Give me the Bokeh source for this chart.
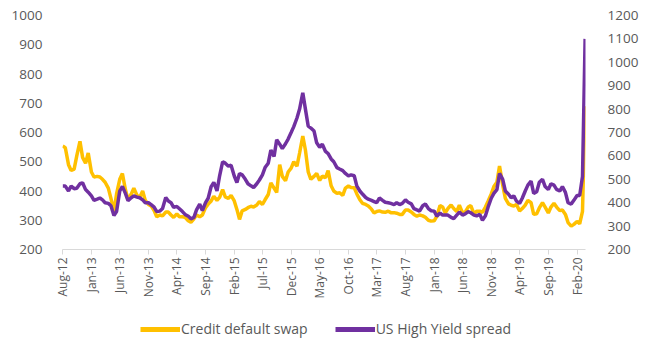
import pandas as pd
from bokeh.plotting import figure
from bokeh.layouts import column
from bokeh.models import (Range1d, LinearAxis, FixedTicker, DatetimeTickFormatter,
                          Legend, LegendItem, ColumnDataSource)
from bokeh.embed import file_html
from bokeh.resources import INLINE

# Credit default swap (left axis), semi-monthly from Aug 2012
cds_spread = [
    554, 548, 490, 470, 475, 520, 570, 515, 495, 530,
    465, 448, 450, 448, 440, 430, 410, 375, 330, 390,
    440, 460, 405, 370, 389, 410, 385, 378, 400, 368,
    354, 349, 333, 312, 318, 315, 328, 328, 318, 310,
    322, 312, 312, 310, 298, 293, 305, 318, 312, 318,
    343, 355, 366, 382, 368, 378, 405, 380, 375, 385,
    366, 337, 303, 332, 337, 343, 348, 345, 352, 364,
    354, 370, 388, 428, 410, 395, 490, 450, 435, 465,
    478, 500, 485, 530, 588, 540, 465, 440, 450, 460,
    436, 451, 446, 470, 418, 400, 392, 394, 385, 410,
    417, 412, 411, 390, 370, 358, 354, 349, 338, 325,
    330, 332, 328, 327, 331, 326, 326, 324, 320, 320,
    335, 335, 328, 320, 314, 318, 315, 310, 300, 297,
    298, 314, 350, 345, 325, 340, 352, 340, 330, 352,
    325, 328, 345, 350, 322, 331, 331, 327, 345, 365,
    390, 415, 430, 485, 420, 375, 356, 351, 349, 354,
    332, 340, 352, 368, 360, 320, 322, 342, 360, 345,
    325, 345, 358, 345, 333, 335, 320, 292, 280, 286,
    296, 288, 330, 690,
]

# US High Yield spread (right axis), semi-monthly from Aug 2012
hy_spread = [
    471, 471, 450, 471, 460, 462, 481, 485, 456, 445,
    429, 410, 415, 420, 412, 400, 397, 387, 345, 362,
    450, 470, 440, 409, 421, 429, 424, 421, 412, 400,
    400, 392, 381, 362, 364, 375, 422, 407, 400, 380,
    384, 374, 362, 350, 342, 331, 337, 369, 394, 366,
    400, 419, 469, 487, 450, 515, 575, 569, 556, 560,
    514, 486, 525, 519, 500, 481, 472, 465, 481, 497,
    519, 550, 569, 625, 597, 669, 650, 631, 652, 672,
    700, 725, 762, 800, 870, 800, 727, 719, 706, 656,
    637, 650, 619, 610, 587, 575, 550, 544, 537, 525,
    515, 519, 515, 471, 450, 437, 422, 415, 410, 405,
    400, 420, 410, 402, 400, 397, 392, 400, 392, 397,
    412, 402, 395, 375, 369, 364, 387, 394, 375, 366,
    364, 342, 356, 347, 347, 347, 337, 332, 347, 360,
    347, 352, 362, 357, 347, 344, 350, 325, 344, 381,
    419, 440, 456, 525, 500, 450, 436, 421, 429, 407,
    397, 419, 450, 475, 492, 440, 447, 487, 500, 469,
    456, 481, 475, 457, 450, 469, 444, 400, 394, 410,
    431, 431, 512, 1100,
]

tick_labels = ["Aug-12", "Jan-13", "Jun-13", "Nov-13", "Apr-14", "Sep-14", "Feb-15",
               "Jul-15", "Dec-15", "May-16", "Oct-16", "Mar-17", "Aug-17", "Jan-18",
               "Jun-18", "Nov-18", "Apr-19", "Sep-19", "Feb-20"]
left_ticks = [200, 300, 400, 500, 600, 700, 800, 900, 1000]
right_ticks = [200, 300, 400, 500, 600, 700, 800, 900, 1000, 1100, 1200]
series_names = ["Credit default swap", "US High Yield spread"]
series_colors = ["#FFC000", "#7030A0"]

dates = pd.date_range("2012-08-01", periods=len(cds_spread), freq="SMS")
tick_dates = pd.date_range("2012-08-01", periods=len(tick_labels), freq="5MS")
tick_ms = [d.timestamp() * 1000 for d in tick_dates]

src = ColumnDataSource(dict(date=dates, cds=cds_spread, hy=hy_spread))

GRAY = "#595959"
FONT = "Open Sans"

p = figure(frame_width=523, frame_height=234, x_axis_type="datetime",
           output_backend="svg", toolbar_location=None,
           x_range=Range1d(pd.Timestamp("2012-07-31"), pd.Timestamp("2020-03-17")),
           y_range=Range1d(200, 1000))
p.min_border_left = 62
p.min_border_right = 63
p.min_border_top = 15
p.min_border_bottom = 65
p.outline_line_color = None
p.xgrid.visible = False
p.ygrid.visible = False
p.background_fill_color = "white"
p.border_fill_color = "white"

p.extra_y_ranges = {"hy": Range1d(200, 1200)}

r1 = p.line("date", "cds", source=src, line_color=series_colors[0], line_width=3.5)
r2 = p.line("date", "hy", source=src, line_color=series_colors[1], line_width=3.5,
            y_range_name="hy")

# left axis
yl = p.yaxis[0]
yl.ticker = FixedTicker(ticks=left_ticks)
yl.axis_line_color = None
yl.major_tick_line_color = None
yl.minor_tick_line_color = None
yl.major_label_text_color = GRAY
yl.major_label_text_font = FONT
yl.major_label_text_font_size = "13.5px"
yl.major_label_standoff = 14

# right axis
yr = LinearAxis(y_range_name="hy", ticker=FixedTicker(ticks=right_ticks))
yr.axis_line_color = None
yr.major_tick_line_color = None
yr.minor_tick_line_color = None
yr.major_label_text_color = GRAY
yr.major_label_text_font = FONT
yr.major_label_text_font_size = "13.5px"
yr.major_label_standoff = 16
p.add_layout(yr, "right")

# bottom axis
xa = p.xaxis[0]
xa.ticker = FixedTicker(ticks=tick_ms)
fmt = "%b-%y"
xa.formatter = DatetimeTickFormatter(microseconds=fmt, milliseconds=fmt, seconds=fmt,
                                     minsec=fmt, minutes=fmt, hourmin=fmt, hours=fmt,
                                     days=fmt, months=fmt, years=fmt)
xa.major_label_orientation = 3.14159265 / 2
xa.axis_line_color = "#D9D9D9"
xa.major_tick_line_color = "#D9D9D9"
xa.major_tick_in = 0
xa.major_tick_out = 5
xa.minor_tick_line_color = None
xa.major_label_text_color = GRAY
xa.major_label_text_font = FONT
xa.major_label_text_font_size = "12px"
xa.major_label_standoff = 3

# legend strip underneath the chart (same series, drawn out of view; only the key shows)
lg = figure(width=648, height=28, output_backend="svg", toolbar_location=None,
            x_range=Range1d(0, 1), y_range=Range1d(0, 1),
            x_axis_location=None, y_axis_location=None, min_border=0)
lg.outline_line_color = None
lg.xgrid.visible = False
lg.ygrid.visible = False
lg.border_fill_color = "white"
lr1 = lg.line("date", "cds", source=src, line_color=series_colors[0], line_width=5)
lr2 = lg.line("date", "hy", source=src, line_color=series_colors[1], line_width=5)

legend = Legend(items=[LegendItem(label=series_names[0], renderers=[lr1]),
                       LegendItem(label=series_names[1], renderers=[lr2])],
                orientation="horizontal", location=(78, 4))
legend.label_text_color = GRAY
legend.label_text_font = FONT
legend.label_text_font_size = "14px"
legend.glyph_width = 40
legend.glyph_height = 16
legend.label_height = 16
legend.label_standoff = 1
legend.spacing = 27
legend.border_line_color = None
legend.background_fill_alpha = 0
legend.padding = 2
legend.margin = 0
lg.add_layout(legend)

layout = column(p, lg, spacing=0)
open("out.html", "w").write(file_html(layout, INLINE))
